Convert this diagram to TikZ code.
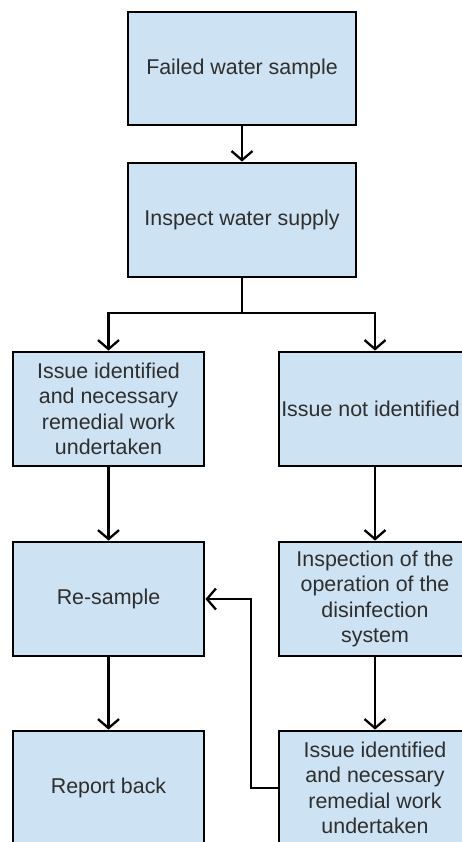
\documentclass[tikz,border=0pt]{standalone}
\usepackage{fontspec}
\setmainfont{Liberation Sans}
\usepackage{tikz}
\usetikzlibrary{arrows.meta}
\tikzset{>={Straight Barb[length=9pt,width=21pt]}}
\usepackage{xcolor}
\definecolor{boxcol}{RGB}{205,226,242}
\colorlet{txtcol}{black!82}
\tikzstyle{stepbox}=[draw=black,line width=2.8pt,fill=boxcol,text=txtcol,
  align=center,inner sep=0pt,minimum width=191pt,minimum height=114pt,
  font=\fontsize{21.4}{25.5}\selectfont]
\tikzstyle{flow}=[->,line width=2.3pt]

\begin{document}
\begin{tikzpicture}[x=1pt,y=-1pt]
  \def\W{462}
  \def\H{842}
  \def\xl{108.5}
  \def\xm{242}
  \def\xr{375}
  \useasboundingbox (0,0) rectangle (\W,\H);
  \clip (0,0) rectangle (\W,\H);

  % top
  \node[stepbox,minimum width=228pt,minimum height=113pt] (fail) at (\xm,68.5) {Failed water sample};
  \node[stepbox,minimum width=228pt] (insp) at (\xm,220) {Inspect water supply};

  % left column
  \node[stepbox] (found) at (\xl,409) {Issue identified\\and necessary\\remedial work\\undertaken};
  \node[stepbox] (resamp) at (\xl,599) {Re-sample};
  \node[stepbox] (report) at (\xl,788) {Report back};

  % right column
  \node[stepbox,minimum width=192pt] (notfound) at (\xr,409) {\hspace*{-9pt}Issue not identified};
  \node[stepbox,minimum width=192pt] (disinf) at (\xr,599) {Inspection of the\\operation of the\\disinfection\\system};
  \node[stepbox,minimum width=192pt] (fixed) at (\xr,788) {Issue identified\\and necessary\\remedial work\\undertaken};

  \coordinate (split) at (\xm,313);
  \coordinate (back) at (251,788);

  \draw[flow] (fail) -- (insp);
  \draw[line width=2.3pt] (insp) -- (split);
  \draw[flow] (split) -| (found.north);
  \draw[flow] (split) -| (notfound.north);
  \draw[flow] (found) -- (resamp);
  \draw[flow] (resamp) -- (report);
  \draw[flow] (notfound) -- (disinf);
  \draw[flow] (disinf) -- (fixed);
  \draw[flow] (fixed.west) -- (back) |- (resamp.east);
\end{tikzpicture}
\end{document}
